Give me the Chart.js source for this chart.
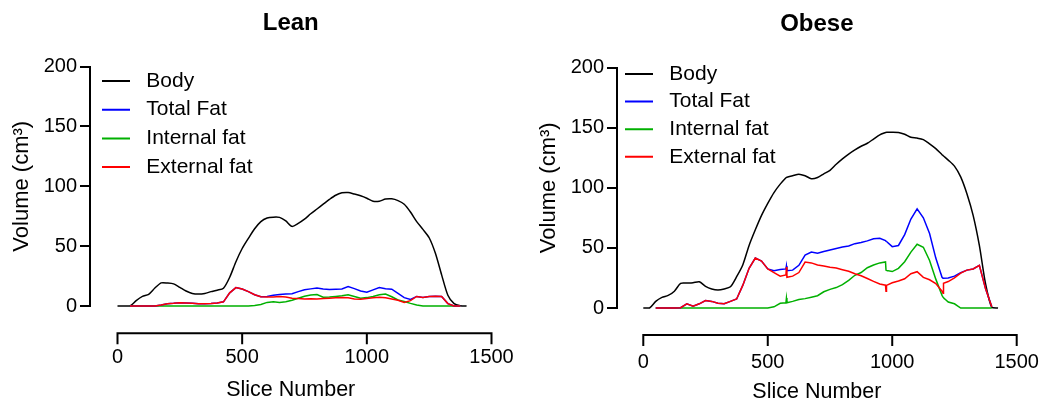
<!DOCTYPE html>
<html>
<head>
<meta charset="utf-8">
<script src="https://cdn.jsdelivr.net/npm/chart.js@4.4.0/dist/chart.umd.min.js"></script>
<style>
html, body { margin: 0; padding: 0; background: #ffffff; }
#wrap { position: relative; width: 1042px; height: 405px; }
.panel { position: absolute; top: 0; width: 521px; height: 405px; }
</style>
</head>
<body>
<div id="wrap">
  <div class="panel" style="left:0px"><canvas id="lean"></canvas></div>
  <div class="panel" style="left:521px"><canvas id="obese"></canvas></div>
</div>
<script>
// ---------------- data ----------------
const seriesNames = ['Body', 'Total Fat', 'Internal fat', 'External fat'];
const xTickValues = [0, 500, 1000, 1500];
const yTickValues = [0, 50, 100, 150, 200];

const leanSlices = [0,25,50,75,100,125,150,175,200,225,250,275,300,325,350,375,400,425,450,475,500,525,550,575,600,625,650,675,700,725,750,775,800,825,850,875,900,925,950,975,1000,1025,1050,1075,1100,1125,1150,1175,1200,1225,1250,1275,1300,1325,1350,1375,1400];
const leanBody = [0,0,0,4.5,8,9.8,15,19.3,19.2,18.5, 15.5,12.5,10.5,10,10.5,12,13.2,14.8,24,37, 48,56.5,64.5,70.5,73.5,74.2,74,71,66.5,69, 72.5,77,81,85,89,92.5,94.5,94.8,93.5,92, 90,87.5,87.5,89.3,89.5,88,85,78.5,70.5,64, 57,44,26,9,2,0.3,0];
const leanTotalFat = [null,null,0,0,0,0,0,0.8,1.8,2.2, 2.8,2.6,2.2,1.8,1.8,2,2.5,3.5,11,15.4, 14.2,12,9.4,7.8,8,9,9.6,10,10.2,12, 13.6,14.3,15,14.2,13.8,14,14.2,16.2,14.5,12.5, 11.5,13.5,15.4,14.5,14,10.5,7,5.5,8,7.2, 8,8.2,8,2,0,0,null];
const leanInternalFat = [null,null,0,0,0,0,0,0,0,0, 0,0,0,0,0,0,0,0,0,0, 0,0,0.5,1.2,3,3.6,3,3.5,4.8,6.5, 8.2,9.2,9.5,7.4,7.5,8,8.5,9.4,8,6.5, 7,8,9.4,10,7.7,5,3.8,2.2,0.8,0, 0,0,0,0,0,0,null];
const leanExternalFat = [null,null,0,0,0,0,0,0.8,1.8,2.2, 2.8,2.6,2.2,1.8,1.8,2,2.5,3.5,11,15.4, 14.2,12,9.4,7.8,7.5,7.6,8,7.5,6.5,6.2, 5.9,6,5.9,6.2,6.5,6.8,7.2,6.8,5.9,5.6, 6.3,6.8,7.4,6.8,5.9,4.8,3,4.5,8,7.2, 8,8.2,8,2,0,0,null];

const obeseSlices = [0,25,50,75,100,125,150,175,200,225,250,275,300,325,350,375,400,425,450,475,500,525,550,573,575,577,600,625,650,675,700,725,750,775,800,825,850,875,900,925,950,973,975,977,1000,1025,1050,1075,1100,1125,1150,1175,1200,1204,1206,1225,1250,1275,1300,1325,1350,1375,1400,1425];
const obeseBody = [0,0,5.5,8.8,10.5,14,20.5,20.7,21,21.8, 18,15.8,15,15.8,17.6,26,36,52,65,77, 87,96,103,108.3,108.5,108.7,110,111.3,110,107.5, 108.5,111.5,114.5,119.5,124,128,131.5,134.5,137,140.5, 144,145.9,146,146.1,146.2,146,144.5,142,141.3,140, 136.5,132.5,127.5,126.8,126.4,123,118,109,95,77, 52,20,0.5,0];
const obeseTotalFat = [null,null,0,0,0,0,0.3,3.5,1.5,3.5, 6.2,5.5,4,3.6,5.5,7.5,19,33,41.5,39, 32.5,31,32,32.5,35,31,31.5,35.5,44,46.5, 45.5,47,48.2,49.5,50.8,51.5,53.5,54.5,55.8,57.5, 58,56,55.5,55.3,51,52,61,74,82.5,75, 62,41.5,25.5,24.8,24.8,25,26.5,29.3,31.5,32.5, 35.5,16,1,null];
const obeseInternalFat = [null,null,0,0,0,0,0,0,0,0, 0,0,0,0,0,0,0,0,0,0, 0,1,3.9,4.4,8.3,4.4,5.5,7,7.8,9, 10.2,13.5,15.5,17,19.5,23,27.2,29.5,33.5,35.8, 37.5,38.3,31.5,31.3,30.3,33,38.5,46.5,53,50.5, 39.5,24,10.5,9,8.5,5,3.5,0,0,0, 0,0,0,null];
const obeseExternalFat = [null,null,0,0,0,0,0.3,3.5,1.5,3.5, 6.2,5.5,4,3.6,5.5,7.5,19,33,41.5,39, 32.5,29.5,26.5,27.5,34,25.5,26.5,29.5,38.2,37.5, 35.8,35,33.8,33.2,31.8,30.5,28.5,26.8,24.5,22.1, 20,19,14,18.8,21,22.5,24.3,28.5,30.2,25.5, 23.5,20.3,14,12.2,20.6,22,25,29,31.5,32.5, 35.5,16,1,null];

// ---------------- style ----------------
const FONT = 'Arial, "Liberation Sans", Helvetica, sans-serif';
Chart.defaults.font.family = FONT;
Chart.defaults.color = '#000000';
const seriesColors = ['#000000', '#0000ff', '#00b000', '#ff0000'];
const drawOrder = [3, 1, 2, 0];

// place the legend inside the plot area at a given offset
const legendPlace = {
  id: 'legendPlace',
  afterLayout(chart, args, opts) {
    const lg = chart.legend;
    if (!lg) return;
    const ca = chart.chartArea;
    lg.left = ca.left + opts.dx;
    lg.top = ca.top + opts.dy;
    lg.right = ca.right;
    lg.bottom = ca.bottom;
  }
};

// detached (offset) x axis line with tick marks, positioned by the x scale
const offsetXAxis = {
  id: 'offsetXAxis',
  afterDraw(chart, args, opts) {
    const xs = chart.scales.x;
    const ctx = chart.ctx;
    const y = chart.chartArea.bottom + opts.gap;
    const x0 = xs.getPixelForValue(opts.from);
    const x1 = xs.getPixelForValue(opts.to);
    ctx.save();
    ctx.strokeStyle = opts.color;
    ctx.lineWidth = opts.width;
    ctx.lineCap = 'square';
    ctx.beginPath();
    ctx.moveTo(x0, y);
    ctx.lineTo(x1, y);
    xs.ticks.forEach(t => {
      const px = xs.getPixelForValue(t.value);
      ctx.moveTo(px, y);
      ctx.lineTo(px, y + opts.tickLength);
    });
    ctx.stroke();
    ctx.restore();
  }
};

function makeChart(id, title, slices, seriesList, L) {
  const datasets = seriesList.map((vals, k) => ({
    label: seriesNames[k],
    data: slices.map((s, i) => ({ x: s, y: vals[i] })),
    borderColor: seriesColors[k],
    backgroundColor: seriesColors[k],
    borderWidth: 1.5,
    pointRadius: 0,
    pointHoverRadius: 0,
    pointStyle: 'line',
    tension: k === 0 ? 0.25 : 0,
    order: drawOrder[k],
    clip: false,
    fill: false
  }));
  return new Chart(document.getElementById(id), {
    type: 'line',
    data: { datasets },
    options: {
      responsive: true,
      maintainAspectRatio: false,
      animation: false,
      events: [],
      layout: { padding: { left: 0, top: 0, right: L.padRight, bottom: 0 } },
      plugins: {
        title: {
          display: true, text: title, fullSize: false, color: '#000',
          font: { size: 24, weight: 'bold' },
          padding: { top: L.titleTop, bottom: L.titleBottom }
        },
        legend: {
          display: true, position: 'chartArea', align: 'start', fullSize: false,
          labels: {
            usePointStyle: true, pointStyleWidth: 28, padding: L.legendPad,
            font: { size: 21 }, color: '#000',
            sort: (a, b) => a.datasetIndex - b.datasetIndex,
            generateLabels(chart) {
              const items = Chart.defaults.plugins.legend.labels.generateLabels(chart);
              items.forEach(it => { it.text = ' ' + it.text; it.lineWidth = 2; it.pointStyle = 'line'; });
              return items;
            }
          }
        },
        tooltip: { enabled: false },
        legendPlace: { dx: L.legendDx, dy: L.legendDy },
        offsetXAxis: { gap: L.xGap, tickLength: 10, width: 2, color: '#000',
                       from: xTickValues[0], to: xTickValues[xTickValues.length - 1] }
      },
      scales: {
        x: {
          type: 'linear', min: L.xMin, max: 1500,
          afterBuildTicks: s => { s.ticks = xTickValues.map(v => ({ value: v })); },
          afterFit: s => { s.height = L.xHeight; },
          // invisible tick marks only reserve the gap between plot and labels
          grid: { display: true, drawOnChartArea: false, drawTicks: true, tickLength: L.xLabelGap,
                  tickColor: 'rgba(0,0,0,0)', color: 'rgba(0,0,0,0)' },
          border: { display: false },
          ticks: { font: { size: 20 }, color: '#000', padding: 0, maxRotation: 0, autoSkip: false,
                   callback: v => String(v) },
          title: { display: true, text: 'Slice Number', font: { size: 21.5 }, color: '#000',
                   padding: { top: 0, bottom: L.xTitleBottom } }
        },
        y: {
          type: 'linear', min: 0, max: 200,
          afterBuildTicks: s => { s.ticks = yTickValues.map(v => ({ value: v })); },
          afterFit: s => { s.width = L.yWidth; },
          grid: { display: true, drawOnChartArea: false, drawTicks: true, tickLength: 10,
                  tickWidth: 2, tickColor: '#000', color: '#000', lineWidth: 2 },
          border: { display: true, color: '#000', width: 2 },
          ticks: { font: { size: 20 }, color: '#000', padding: 3, autoSkip: false, callback: v => String(v) },
          title: { display: true, text: 'Volume (cm³)', font: { size: 22 }, color: '#000',
                   padding: { top: L.yTitleTop, bottom: 0 } }
        }
      }
    },
    plugins: [legendPlace, offsetXAxis]
  });
}

makeChart('lean', 'Lean', leanSlices,
  [leanBody, leanTotalFat, leanInternalFat, leanExternalFat],
  { padRight: 29.5, titleTop: 8.6, titleBottom: 29.1, xMin: -110.3, xHeight: 99, yWidth: 90,
    xLabelGap: 39.5, xTitleBottom: 2.1, yTitleTop: 8.8, xGap: 27.3,
    legendPad: 7.7, legendDx: 4.3, legendDy: -3.7 });

makeChart('obese', 'Obese', obeseSlices,
  [obeseBody, obeseTotalFat, obeseInternalFat, obeseExternalFat],
  { padRight: 25.3, titleTop: 10.3, titleBottom: 28.4, xMin: -105.6, xHeight: 97, yWidth: 96,
    xLabelGap: 42, xTitleBottom: 0, yTitleTop: 14.8, xGap: 27,
    legendPad: 6.6, legendDx: 1.4, legendDy: -10.6 });
</script>
</body>
</html>
